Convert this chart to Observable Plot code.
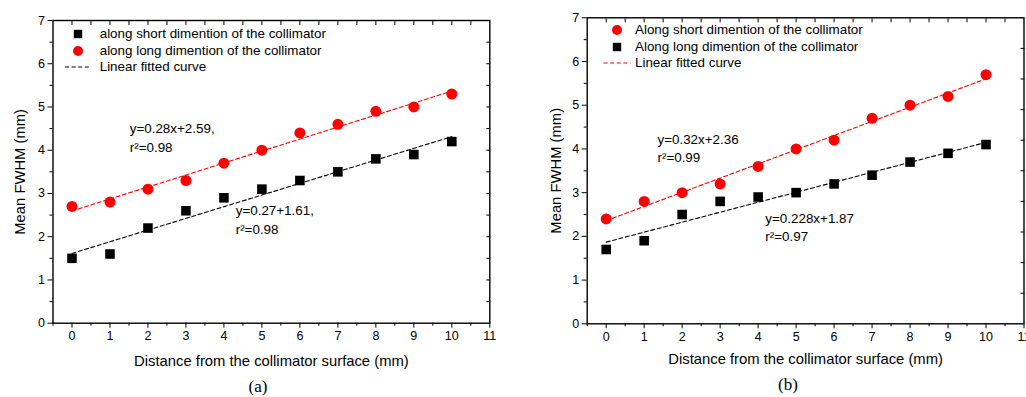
<!DOCTYPE html>
<html>
<head>
<meta charset="utf-8">
<script src="https://cdn.jsdelivr.net/npm/d3@7"></script>
<script src="https://cdn.jsdelivr.net/npm/@observablehq/plot@0.6"></script>
<style>
  html, body { margin: 0; padding: 0; background: #fff; }
  body { width: 1026px; height: 397px; position: relative; overflow: hidden;
         font-family: "Liberation Sans", Arial, sans-serif; }
  .panel { position: absolute; top: 0; }
  .caption { position: absolute; font-family: "Liberation Serif", "Times New Roman", serif;
             font-size: 17px; transform: translate(-50%, -50%); white-space: nowrap; }
  .leg { position: absolute; font-size: 13.4px; line-height: 16px; white-space: nowrap; color: #000; }
  .legsw { position: absolute; overflow: visible; }
</style>
</head>
<body>
<script>
// ---------- data ----------
const distance = [0, 1, 2, 3, 4, 5, 6, 7, 8, 9, 10];
// panel (a)
const aShortFWHM = [1.5, 1.6, 2.2, 2.6, 2.9, 3.1, 3.3, 3.5, 3.8, 3.9, 4.2];
const aLongFWHM  = [2.7, 2.8, 3.1, 3.3, 3.7, 4.0, 4.4, 4.6, 4.9, 5.0, 5.3];
// panel (b)
const bShortFWHM = [2.4, 2.8, 3.0, 3.2, 3.6, 4.0, 4.2, 4.7, 5.0, 5.2, 5.7];
const bLongFWHM  = [1.7, 1.9, 2.5, 2.8, 2.9, 3.0, 3.2, 3.4, 3.7, 3.9, 4.1];

const xMajorTicks = [0, 1, 2, 3, 4, 5, 6, 7, 8, 9, 10, 11];
const xMinorTicks = [-0.5, 0.5, 1.5, 2.5, 3.5, 4.5, 5.5, 6.5, 7.5, 8.5, 9.5, 10.5];
const yMajorTicks = [0, 1, 2, 3, 4, 5, 6, 7];
const yMinorTicks = [0.5, 1.5, 2.5, 3.5, 4.5, 5.5, 6.5];
const aRightTicks = [0.5, 1, 1.5, 2, 2.5, 3, 3.5, 4, 4.5, 5, 5.5, 6, 6.5];
const bRightTicks = [0.7, 1.4, 2.1, 2.8, 3.5, 4.2, 4.9, 5.6, 6.3];
const topTicks = [0, 0.5, 1, 1.5, 2, 2.5, 3, 3.5, 4, 4.5, 5, 5.5, 6, 6.5, 7, 7.5, 8, 8.5, 9, 9.5, 10, 10.5];

const xLabel = "Distance from the collimator surface (mm)";
const yLabel = "Mean FWHM (mm)";

const aNotes = [
  {x: 1.52, y: 4.50, text: "y=0.28x+2.59,"},
  {x: 1.52, y: 4.06, text: "r²=0.98"},
  {x: 4.31, y: 2.60, text: "y=0.27+1.61,"},
  {x: 4.31, y: 2.17, text: "r²=0.98"}
];
const bNotes = [
  {x: 1.35, y: 4.22, text: "y=0.32x+2.36"},
  {x: 1.35, y: 3.80, text: "r²=0.99"},
  {x: 4.19, y: 2.41, text: "y=0.228x+1.87"},
  {x: 4.19, y: 2.00, text: "r²=0.97"}
];

const RED = "#ff0000";
const BLACK = "#000000";
const TICK_FONT = 12.5;

function rowsOf(values) { return distance.map((d, i) => ({x: d, y: values[i]})); }

function makePanel(o) {
  const marks = [
    Plot.axisY({ticks: yMajorTicks, tickSize: 5, tickPadding: 3, label: null, fontSize: TICK_FONT, tickFormat: d => String(d)}),
    Plot.axisY({ticks: yMinorTicks, tickSize: 3, label: null, tickFormat: () => ""}),
    Plot.axisY({anchor: "right", ticks: o.rightTicks, tickSize: -4, label: null, tickFormat: () => ""}),
    Plot.axisX({ticks: xMajorTicks, tickSize: 5, tickPadding: 3, label: null, fontSize: TICK_FONT, tickFormat: d => String(d)}),
    Plot.axisX({ticks: xMinorTicks, tickSize: 3, label: null, tickFormat: () => ""}),
    Plot.axisX({anchor: "top", ticks: topTicks, tickSize: -4, label: null, tickFormat: () => ""}),
    ...o.series.map(s => Plot.linearRegressionY(rowsOf(s.values), {
      x: "x", y: "y", ci: 0, stroke: s.color, strokeWidth: 1.1, strokeDasharray: "4,2.6"
    })),
    ...o.series.map(s => Plot.dot(rowsOf(s.values), {
      x: "x", y: "y", symbol: s.symbol, r: s.symbol === "square" ? 5.4 : 5.5, fill: s.color, stroke: "none"
    })),
    Plot.frame({stroke: "#000", strokeWidth: 1.4}),
    Plot.text(o.notes, {x: "x", y: "y", text: "text", textAnchor: "start", lineAnchor: "middle",
      fontSize: 13.4, fill: "#000"}),
    Plot.text([yLabel], {frameAnchor: "left", dx: -o.yLabelOffset, rotate: -90, textAnchor: "middle",
      lineAnchor: "middle", fontSize: 14.8, fill: "#000"}),
    Plot.text([xLabel], {frameAnchor: "bottom", dy: o.xLabelOffset, textAnchor: "middle",
      lineAnchor: "middle", fontSize: 14.8, fill: "#000"})
  ];
  const svg = Plot.plot({
    width: o.width, height: o.height,
    marginLeft: o.marginLeft, marginRight: o.marginRight,
    marginTop: o.marginTop, marginBottom: o.marginBottom,
    x: {domain: [-0.5, 11]},
    y: {domain: [0, 7]},
    style: {fontFamily: '"Liberation Sans", Arial, sans-serif', fontSize: "12.5px", color: "#000", background: "#fff", overflow: "visible"},
    marks
  });
  const wrap = document.createElement("div");
  wrap.className = "panel";
  wrap.style.left = o.left + "px";
  wrap.appendChild(svg);
  document.body.appendChild(wrap);
}

function makeLegend(rows, symbolX, textX) {
  for (const r of rows) {
    const sw = d3.create("svg").attr("class", "legsw").attr("width", 40).attr("height", 16)
      .style("left", (symbolX - 20) + "px").style("top", (r.y - 8) + "px");
    if (r.kind === "square") {
      sw.append("rect").attr("x", 20 - 4.2).attr("y", 8 - 4.2).attr("width", 8.4).attr("height", 8.4).attr("fill", r.color);
    } else if (r.kind === "circle") {
      sw.append("circle").attr("cx", 20).attr("cy", 8).attr("r", 5).attr("fill", r.color);
    } else {
      sw.append("line").attr("x1", 20 - r.half).attr("x2", 20 + r.half).attr("y1", 8).attr("y2", 8)
        .attr("stroke", r.color).attr("stroke-width", 1.1).attr("stroke-dasharray", "4,2.6");
    }
    document.body.appendChild(sw.node());
    const t = document.createElement("div");
    t.className = "leg";
    t.textContent = r.label;
    t.style.left = textX + "px";
    t.style.top = (r.y - 8) + "px";
    document.body.appendChild(t);
  }
}

function caption(text, cx, cy) {
  const d = document.createElement("div");
  d.className = "caption";
  d.textContent = text;
  d.style.left = cx + "px";
  d.style.top = cy + "px";
  document.body.appendChild(d);
}

// Panel (a)
makePanel({
  left: 0, width: 505, height: 375,
  marginLeft: 52.5, marginRight: 15.7, marginTop: 20, marginBottom: 52.3,
  yLabelOffset: 32.5, xLabelOffset: 38.3,
  rightTicks: aRightTicks,
  notes: aNotes,
  series: [
    {values: aLongFWHM, symbol: "circle", color: RED},
    {values: aShortFWHM, symbol: "square", color: BLACK}
  ]
});
// Panel (b)
makePanel({
  left: 520, width: 506, height: 375,
  marginLeft: 66.7, marginRight: 2.5, marginTop: 17.3, marginBottom: 51.7,
  yLabelOffset: 30.7, xLabelOffset: 35.7,
  rightTicks: bRightTicks,
  notes: bNotes,
  series: [
    {values: bShortFWHM, symbol: "circle", color: RED},
    {values: bLongFWHM, symbol: "square", color: BLACK}
  ]
});

makeLegend([
  {y: 34, kind: "square", color: BLACK, label: "along short dimention of the collimator"},
  {y: 50.5, kind: "circle", color: RED, label: "along long dimention of the collimator"},
  {y: 67, kind: "line", color: BLACK, half: 13, label: "Linear fitted curve"}
], 78, 99.7);

makeLegend([
  {y: 30, kind: "circle", color: RED, label: "Along short dimention of the collimator"},
  {y: 46.5, kind: "square", color: BLACK, label: "Along long dimention of the collimator"},
  {y: 62.5, kind: "line", color: RED, half: 13.5, label: "Linear fitted curve"}
], 617, 635);

caption("(a)", 258, 387);
caption("(b)", 788, 385);
</script>
</body>
</html>
